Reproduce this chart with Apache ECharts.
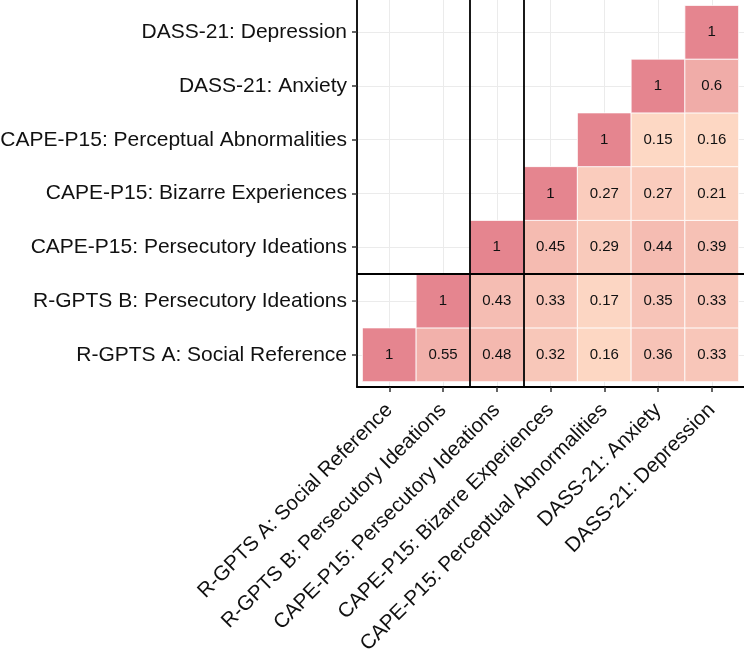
<!DOCTYPE html>
<html>
<head>
<meta charset="utf-8">
<script src="https://cdn.jsdelivr.net/npm/echarts@6/dist/echarts.min.js"></script>
<style>html,body{margin:0;padding:0;background:#fff;}#c{width:744px;height:651px;}</style>
</head>
<body>
<div id="c"></div>
<script>
// Variables (same order for columns left->right and rows bottom->top)
const variables = [
  "R-GPTS A: Social Reference",
  "R-GPTS B: Persecutory Ideations",
  "CAPE-P15: Persecutory Ideations",
  "CAPE-P15: Bizarre Experiences",
  "CAPE-P15: Perceptual Abnormalities",
  "DASS-21: Anxiety",
  "DASS-21: Depression"
];
// Correlation values for each row, starting at the diagonal column
const rowSocialRef      = [1, 0.55, 0.48, 0.32, 0.16, 0.36, 0.33];
const rowRgptsPers      = [1, 0.43, 0.33, 0.17, 0.35, 0.33];
const rowCapePers       = [1, 0.45, 0.29, 0.44, 0.39];
const rowBizarre        = [1, 0.27, 0.27, 0.21];
const rowPerceptual     = [1, 0.15, 0.16];
const rowAnxiety        = [1, 0.6];
const rowDepression     = [1];
const rows = [rowSocialRef, rowRgptsPers, rowCapePers, rowBizarre, rowPerceptual, rowAnxiety, rowDepression];
// Separator lines between groups (axis positions, 1-based categories)
const separatorsX = [2.5, 3.5];
const separatorsY = [2.5];

const tickValues = variables.map((_, i) => i + 1);
const cells = [];
rows.forEach((vals, r) => {
  vals.forEach((v, k) => {
    cells.push([r + k + 1, r + 1, v]);
  });
});

const chart = echarts.init(document.getElementById('c'), null, {renderer: 'canvas'});
const FONT = 'Liberation Sans, Arial, Helvetica, sans-serif';
const axisCommon = {
  type: 'value', min: 0.4, max: 7.6,
  axisLine: {show: true, lineStyle: {color: '#000', width: 1.8}},
  axisTick: {show: true, customValues: tickValues, length: 5, lineStyle: {color: '#333', width: 1.5}},
  splitLine: {show: true, lineStyle: {color: '#ebebeb', width: 1}},
};
chart.setOption({
  animation: false,
  backgroundColor: '#fff',
  grid: {left: 357, right: 0, top: 0, bottom: 264, containLabel: false, outerBoundsMode: 'none'},
  xAxis: Object.assign({}, axisCommon, {
    axisLabel: {customValues: tickValues, formatter: v => variables[Math.round(v) - 1] || '',
      rotate: 45, fontSize: 20.6, color: '#111', fontFamily: FONT, margin: 20}
  }),
  yAxis: Object.assign({}, axisCommon, {
    axisLabel: {customValues: tickValues, formatter: v => variables[Math.round(v) - 1] || '',
      fontSize: 21, color: '#111', fontFamily: FONT, margin: 10, padding: [3, 0, 0, 0]}
  }),
  visualMap: {show: false, type: 'continuous', dimension: 2, min: 0.15, max: 1, seriesIndex: 0,
    inRange: {color: ['#FDD8C4', '#E5858F']}},
  series: [{
    type: 'custom',
    data: cells,
    renderItem: function (params, api) {
      const x = api.value(0), y = api.value(1), v = api.value(2);
      const p = api.coord([x - 0.5, y + 0.5]);
      const s = api.size([1, 1]);
      return {type: 'group', children: [
        {type: 'rect', shape: {x: p[0], y: p[1], width: s[0], height: s[1]},
          style: {fill: api.visual('color'), stroke: '#fff', lineWidth: 0.8}},
        {type: 'text', style: {text: String(v), x: p[0] + s[0] / 2, y: p[1] + s[1] / 2,
          align: 'center', verticalAlign: 'middle', fill: '#111', font: '15px ' + FONT}}
      ]};
    },
    z: 2
  }, {
    type: 'line', data: [], z: 5,
    markLine: {silent: true, symbol: 'none', animation: false, label: {show: false},
      lineStyle: {color: '#000', width: 1.8, type: 'solid'},
      data: separatorsX.map(v => ({xAxis: v})).concat(separatorsY.map(v => ({yAxis: v})))}
  }]
});
</script>
</body>
</html>
